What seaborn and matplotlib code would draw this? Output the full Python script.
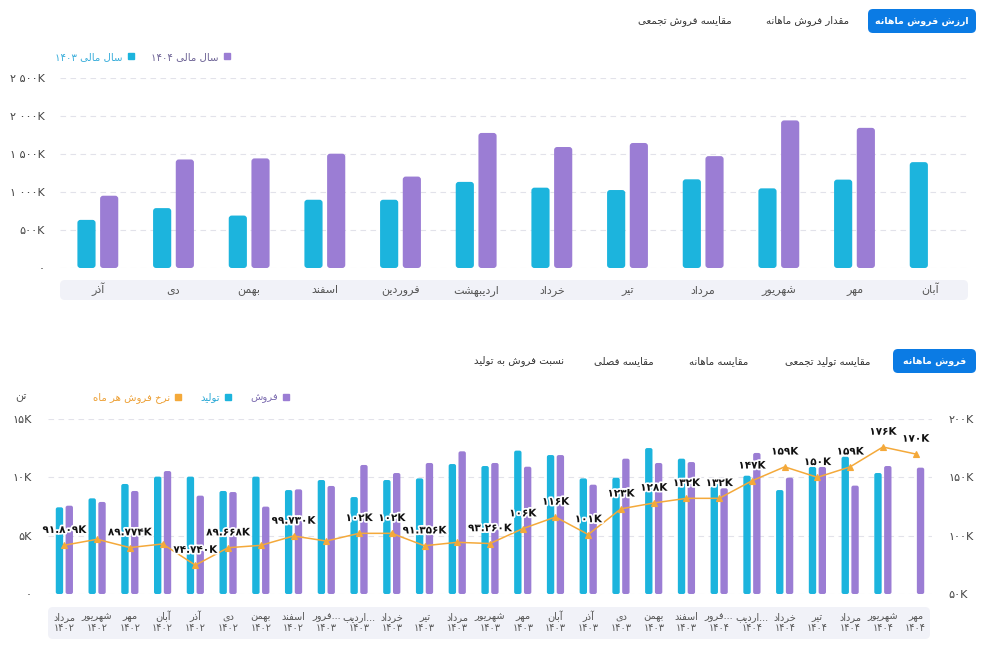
import numpy as np
import pandas as pd
import matplotlib
matplotlib.use("Agg")
import matplotlib.pyplot as plt
import matplotlib.patheffects as pe
import seaborn as sns
from matplotlib import font_manager, ft2font
from matplotlib.patches import FancyBboxPatch, Rectangle
from matplotlib.lines import Line2D
from matplotlib.ticker import FuncFormatter

# ---- data: monthly sales value (K) ----
months_top = ["آذر", "دی", "بهمن", "اسفند", "فروردین", "اردیبهشت",
              "خرداد", "تیر", "مرداد", "شهریور", "مهر", "آبان"]
value_1403 = [633, 788, 690, 898, 898, 1133, 1057, 1026, 1167, 1048, 1163, 1393]
value_1404 = [951, 1428, 1442, 1504, 1203, 1777, 1592, 1645, 1472, 1942, 1844, np.nan]

# ---- data: monthly production / sales (K tons) and sales rate (K) ----
month_labels = ["مرداد", "شهریور", "مهر", "آبان", "آذر", "دی", "بهمن", "اسفند",
                "فرور...", "اردیب...", "خرداد", "تیر", "مرداد", "شهریور", "مهر", "آبان",
                "آذر", "دی", "بهمن", "اسفند",
                "فرور...", "اردیب...", "خرداد", "تیر", "مرداد", "شهریور", "مهر"]
year_labels = ["۱۴۰۲"] * 8 + ["۱۴۰۳"] * 12 + ["۱۴۰۴"] * 7
production = [7.43, 8.20, 9.43, 10.06, 10.06, 8.83, 10.06, 8.91, 9.77, 8.31, 9.77, 9.91,
              11.14, 10.97, 12.29, 11.91, 9.91, 9.97, 12.51, 11.60, 9.49, 10.14, 8.91,
              10.89, 11.77, 10.37, np.nan]
sales = [7.57, 7.89, 8.83, 10.54, 8.43, 8.74, 7.49, 8.97, 9.26, 11.06, 10.37, 11.23,
         12.23, 11.23, 10.91, 11.91, 9.37, 11.60, 11.23, 11.31, 9.06, 12.09, 9.97,
         10.89, 9.29, 10.97, 10.83]
rate = [91.809, 96.9, 89.774, 92.9, 74.740, 89.668, 91.7, 99.730, 95.4, 102, 102, 91.356,
        94.3, 93.260, 106, 116, 101, 123, 128, 132, 132, 147, 159, 150, 159, 176, 170]
rate_hidden_labels = [1, 3, 6, 8, 12]

CYAN = "#1CB4DD"
PURPLE = "#9B7DD4"
ORANGE = "#F4A93A"
BLUE = "#0B7BE4"
GRID = "#E2E2EA"
W, H = 988, 666

# ---- minimal Persian shaping (matplotlib does no shaping / bidi) ----
FORMS = {
    "ا": (0xFE8D, 0xFE8E, None, None), "آ": (0xFE81, 0xFE82, None, None),
    "ب": (0xFE8F, 0xFE90, 0xFE91, 0xFE92), "پ": (0xFB56, 0xFB57, 0xFB58, 0xFB59),
    "ت": (0xFE95, 0xFE96, 0xFE97, 0xFE98), "ث": (0xFE99, 0xFE9A, 0xFE9B, 0xFE9C),
    "ج": (0xFE9D, 0xFE9E, 0xFE9F, 0xFEA0), "چ": (0xFB7A, 0xFB7B, 0xFB7C, 0xFB7D),
    "ح": (0xFEA1, 0xFEA2, 0xFEA3, 0xFEA4), "خ": (0xFEA5, 0xFEA6, 0xFEA7, 0xFEA8),
    "د": (0xFEA9, 0xFEAA, None, None), "ذ": (0xFEAB, 0xFEAC, None, None),
    "ر": (0xFEAD, 0xFEAE, None, None), "ز": (0xFEAF, 0xFEB0, None, None),
    "ژ": (0xFB8A, 0xFB8B, None, None),
    "س": (0xFEB1, 0xFEB2, 0xFEB3, 0xFEB4), "ش": (0xFEB5, 0xFEB6, 0xFEB7, 0xFEB8),
    "ص": (0xFEB9, 0xFEBA, 0xFEBB, 0xFEBC), "ض": (0xFEBD, 0xFEBE, 0xFEBF, 0xFEC0),
    "ط": (0xFEC1, 0xFEC2, 0xFEC3, 0xFEC4), "ظ": (0xFEC5, 0xFEC6, 0xFEC7, 0xFEC8),
    "ع": (0xFEC9, 0xFECA, 0xFECB, 0xFECC), "غ": (0xFECD, 0xFECE, 0xFECF, 0xFED0),
    "ف": (0xFED1, 0xFED2, 0xFED3, 0xFED4), "ق": (0xFED5, 0xFED6, 0xFED7, 0xFED8),
    "ک": (0xFB8E, 0xFB8F, 0xFB90, 0xFB91), "گ": (0xFB92, 0xFB93, 0xFB94, 0xFB95),
    "ل": (0xFEDD, 0xFEDE, 0xFEDF, 0xFEE0), "م": (0xFEE1, 0xFEE2, 0xFEE3, 0xFEE4),
    "ن": (0xFEE5, 0xFEE6, 0xFEE7, 0xFEE8), "و": (0xFEED, 0xFEEE, None, None),
    "ه": (0xFEE9, 0xFEEA, 0xFEEB, 0xFEEC), "ی": (0xFBFC, 0xFBFD, 0xFBFE, 0xFBFF),
}
FALLBACK = {"ی": (0xFEEF, 0xFEF0, 0xFEF3, 0xFEF4), "ک": (0xFED9, 0xFEDA, 0xFEDB, 0xFEDC)}

_FONTS = {}
for w in ("normal", "bold"):
    path = font_manager.findfont(font_manager.FontProperties(family="DejaVu Sans", weight=w))
    _FONTS[w] = ft2font.FT2Font(path)


def has_glyph(cp, weight="normal"):
    return _FONTS[weight].get_char_index(cp) != 0


def shape(s, weight="normal"):
    out = []
    for i, ch in enumerate(s):
        if ch not in FORMS:
            out.append(ch)
            continue
        prev = s[i - 1] if i > 0 else ""
        nxt = s[i + 1] if i + 1 < len(s) else ""
        f = FORMS[ch]
        jp = prev in FORMS and FORMS[prev][2] is not None
        jn = f[2] is not None and nxt in FORMS
        idx = 3 if (jp and jn) else 1 if jp else 2 if jn else 0
        cp = f[idx]
        if not has_glyph(cp, weight) and ch in FALLBACK:
            cp = FALLBACK[ch][idx]
        out.append(chr(cp) if has_glyph(cp, weight) else ch)
    return "".join(out)


def visual(s):
    if s.endswith("..."):
        return visual(s[:-3]) + "..."
    runs, cur, cur_ltr = [], "", None
    for ch in s:
        ltr = ch.isdigit() or ch.isascii() and ch.isalpha() or ch == "."
        if cur and ltr != cur_ltr:
            runs.append((cur, cur_ltr))
            cur = ""
        cur += ch
        cur_ltr = ltr
    if cur:
        runs.append((cur, cur_ltr))
    return "".join(r if l else r[::-1] for r, l in reversed(runs))


def fa(s, weight="normal"):
    return "\n".join(visual(shape(line, weight)) for line in s.split("\n"))


def fa_num(s):
    return s.translate(str.maketrans("0123456789", "۰۱۲۳۴۵۶۷۸۹"))


def fmt_top(v, _):
    v = int(round(v))
    if v == 0:
        return fa_num("0")
    if v >= 1000:
        return fa_num(f"{v // 1000} {v % 1000:03d}K")
    return fa_num(f"{v}K")


def round_bars(ax, w_px, h_px, r_px):
    # swap seaborn's square bars for ones with slightly rounded corners
    x0, x1 = ax.get_xlim()
    y0, y1 = ax.get_ylim()
    xu = w_px / (x1 - x0)
    yu = h_px / (y1 - y0)
    for p in [p for p in ax.patches if isinstance(p, Rectangle)]:
        if not np.isfinite(p.get_height()) or p.get_height() <= 0:
            continue
        nb = FancyBboxPatch((p.get_x(), p.get_y()), p.get_width(), p.get_height(),
                            boxstyle=f"round,pad=0,rounding_size={r_px / xu}",
                            mutation_aspect=xu / yu, fc=p.get_facecolor(), ec="none",
                            zorder=p.get_zorder())
        p.remove()
        ax.add_patch(nb)


sns.set_theme(style="white")
plt.rcParams["font.family"] = ["DejaVu Sans"]

fig = plt.figure(figsize=(W / 100, H / 100), dpi=100)
fig.patch.set_facecolor("white")


def px_box(x0, y0, x1, y1, color, r=5):
    fig.add_artist(FancyBboxPatch((x0 / 100, (H - y1) / 100), (x1 - x0) / 100, (y1 - y0) / 100,
                                  boxstyle=f"round,pad=0,rounding_size={r / 100}",
                                  transform=fig.dpi_scale_trans, fc=color, ec="none", zorder=0))


def px_text(x, y, s, **kw):
    fig.text(x / W, 1 - y / H, s, ha=kw.pop("ha", "center"), va=kw.pop("va", "center"), **kw)


# ---- tabs ----
px_box(868, 9, 976, 33, BLUE, r=5)
px_text(922, 21, fa("ارزش فروش ماهانه", "bold"), color="white", fontsize=6.8, fontweight="bold")
px_text(807, 21, fa("مقدار فروش ماهانه"), color="#333", fontsize=7.3)
px_text(685, 21, fa("مقایسه فروش تجمعی"), color="#333", fontsize=7.3)

px_box(893, 349, 976, 373, BLUE, r=5)
px_text(935, 361, fa("فروش ماهانه", "bold"), color="white", fontsize=6.8, fontweight="bold")
px_text(828, 361, fa("مقایسه تولید تجمعی"), color="#333", fontsize=7.3)
px_text(719, 361, fa("مقایسه ماهانه"), color="#333", fontsize=7.3)
px_text(624, 361, fa("مقایسه فصلی"), color="#333", fontsize=7.3)
px_text(519, 361, fa("نسبت فروش به تولید"), color="#333", fontsize=7.3)

# ---- top chart ----
px_box(60, 280, 968, 300, "#F1F2F8", r=5)
ax1 = fig.add_axes([60 / W, 1 - 268 / H, 908 / W, 190 / H])
ax1.patch.set_alpha(0)
top_df = pd.DataFrame({
    "month": months_top * 2,
    "value": value_1403 + value_1404,
    "year": ["1403"] * len(months_top) + ["1404"] * len(months_top),
})
sns.barplot(data=top_df, x="month", y="value", hue="year", order=months_top,
            hue_order=["1403", "1404"], palette={"1403": CYAN, "1404": PURPLE},
            width=0.6, gap=0.2, saturation=1, errorbar=None, legend=False, ax=ax1)
ax1.set_xlim(-0.5, len(months_top) - 0.5)
ax1.set_ylim(0, 2500)
round_bars(ax1, 908, 190, 3)
ax1.set_yticks([0, 500, 1000, 1500, 2000, 2500])
ax1.yaxis.set_major_formatter(FuncFormatter(fmt_top))
ax1.set_xticks(range(len(months_top)))
ax1.set_xticklabels([fa(m) for m in months_top], va="baseline")
ax1.set_xlabel("")
ax1.set_ylabel("")
ax1.set_axisbelow(True)
ax1.yaxis.grid(True, color=GRID, linestyle=(0, (5, 4)), linewidth=0.8)
ax1.tick_params(axis="y", length=0, pad=11, labelsize=8, labelcolor="#444")
ax1.tick_params(axis="x", length=0, pad=18, labelsize=8, labelcolor="#555")
for sp in ax1.spines.values():
    sp.set_visible(False)

h_top = [Line2D([], [], marker="s", ls="none", color=CYAN, markersize=4.5),
         Line2D([], [], marker="s", ls="none", color=PURPLE, markersize=4.5)]
fig.legend(h_top, [fa("سال مالی ۱۴۰۳"), fa("سال مالی ۱۴۰۴")], loc="center left",
           bbox_to_anchor=(46 / W, 1 - 57 / H), ncol=2, markerfirst=False, frameon=False,
           fontsize=7.3, handlelength=0.8, handletextpad=0.4, columnspacing=1.6,
           labelcolor=["#3AAEDB", "#6E6496"])

# ---- bottom chart ----
px_box(48, 607, 930, 639, "#F1F2F8", r=5)
cats = [f"{m}\n{y}" for m, y in zip(month_labels, year_labels)]
ax2 = fig.add_axes([48 / W, 1 - 594 / H, 884 / W, 175 / H])
ax2.patch.set_alpha(0)
bot_df = pd.DataFrame({
    "cat": cats * 2,
    "value": production + sales,
    "kind": ["prod"] * len(cats) + ["sale"] * len(cats),
})
sns.barplot(data=bot_df, x="cat", y="value", hue="kind", order=cats,
            hue_order=["prod", "sale"], palette={"prod": CYAN, "sale": PURPLE},
            width=0.6, gap=0.25, saturation=1, errorbar=None, legend=False, ax=ax2)

ax3 = ax2.twinx()
rate_df = pd.DataFrame({"cat": cats, "rate": rate})
sns.pointplot(data=rate_df, x="cat", y="rate", order=cats, color=ORANGE, markers="^",
              linestyles="-", errorbar=None, linewidth=1.1, markersize=5, ax=ax3)
for i, v in enumerate(rate):
    if i in rate_hidden_labels:
        continue
    txt = f"{v:.0f}K" if v >= 100 else f"{v:.3f}K"
    ax3.annotate(fa_num(txt), (i, v), xytext=(0, 11), textcoords="offset points",
                 ha="center", va="center", fontsize=7.5, fontweight="bold", color="#111",
                 path_effects=[pe.withStroke(linewidth=2.5, foreground="white")])

ax2.set_xlim(-0.5, len(cats) - 0.5)
ax2.set_ylim(0, 15)
ax3.set_ylim(50, 200)
round_bars(ax2, 884, 175, 2)
ax2.set_yticks([0, 5, 10, 15])
ax3.set_yticks([50, 100, 150, 200])
ax2.yaxis.set_major_formatter(FuncFormatter(lambda v, _: fa_num(f"{v:.0f}K") if v else fa_num("0")))
ax3.yaxis.set_major_formatter(FuncFormatter(lambda v, _: fa_num(f"{v:.0f}K")))
ax2.set_xticks(range(len(cats)))
ax2.set_xticklabels([fa(c) for c in cats], linespacing=1.15, va="baseline")
for a in (ax2, ax3):
    a.set_xlabel("")
    a.set_ylabel("")
    for sp in a.spines.values():
        sp.set_visible(False)
ax2.set_axisbelow(True)
ax2.yaxis.grid(True, color=GRID, linestyle=(0, (5, 4)), linewidth=0.8)
ax3.grid(False)
ax2.tick_params(axis="y", length=0, pad=12, labelsize=8, labelcolor="#444")
ax3.tick_params(axis="y", length=0, pad=12, labelsize=8, labelcolor="#444")
ax2.tick_params(axis="x", length=0, pad=26.5, labelsize=7, labelcolor="#555")

px_text(21, 397, fa("تن"), color="#555", fontsize=8)

h_bot = [Line2D([], [], marker="s", ls="none", color=ORANGE, markersize=4.5),
         Line2D([], [], marker="s", ls="none", color=CYAN, markersize=4.5),
         Line2D([], [], marker="s", ls="none", color=PURPLE, markersize=4.5)]
fig.legend(h_bot, [fa("نرخ فروش هر ماه"), fa("تولید"), fa("فروش")], loc="center left",
           bbox_to_anchor=(84 / W, 1 - 398 / H), ncol=3, markerfirst=False, frameon=False,
           fontsize=7.3, handlelength=0.8, handletextpad=0.4, columnspacing=1.8,
           labelcolor=["#EDA035", "#2BA9D6", "#7C6CB0"])

fig.savefig("out.png", dpi=100, facecolor="white")
